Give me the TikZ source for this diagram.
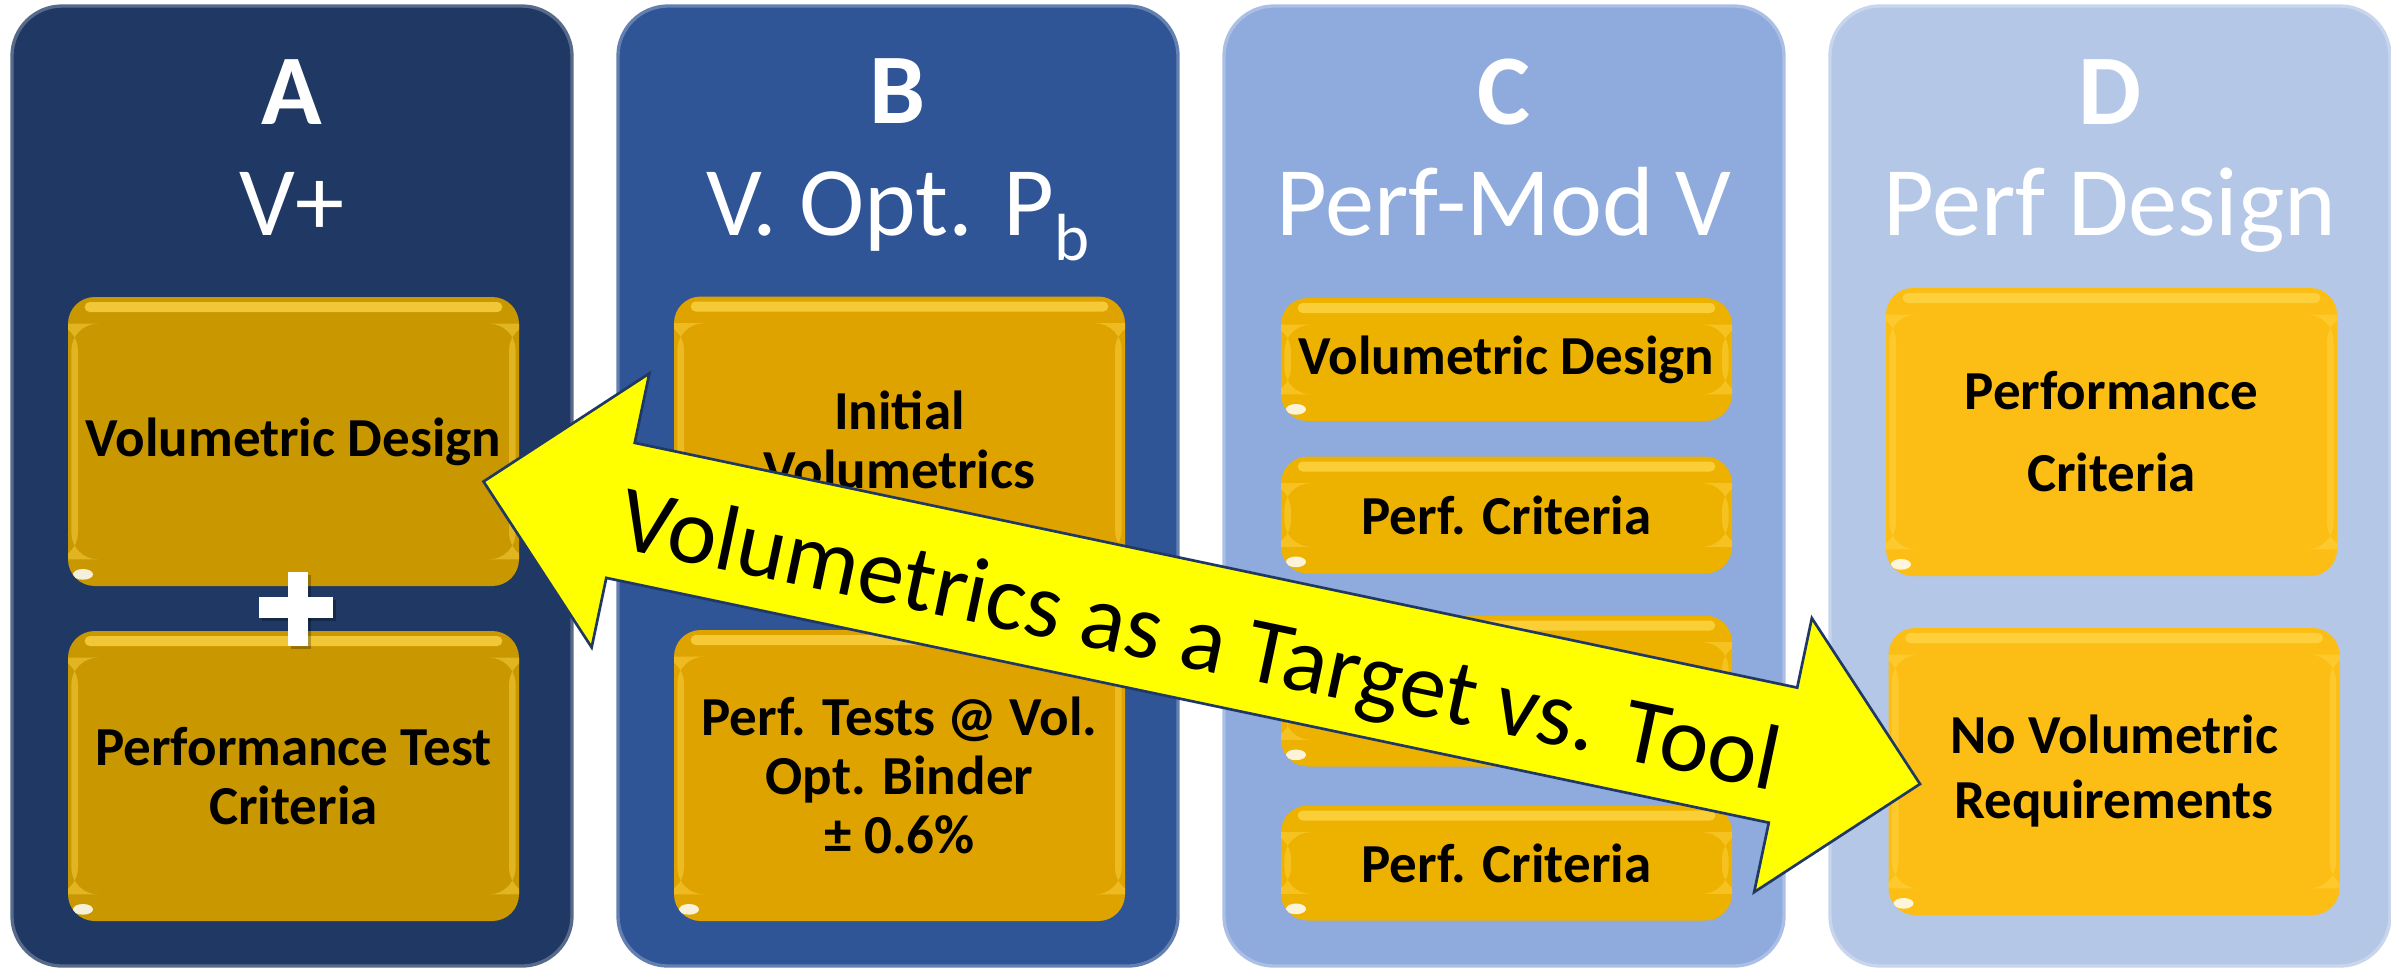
\documentclass[tikz,border=0pt]{standalone}
\usepackage{fontspec}
\setmainfont{Carlito}
\definecolor{colA}{HTML}{203864}
\definecolor{colB}{HTML}{2F5597}
\definecolor{colC}{HTML}{8FAADC}
\definecolor{colD}{HTML}{B4C7E7}
\definecolor{boxA}{HTML}{C99700}
\definecolor{boxB}{HTML}{DFA300}
\definecolor{boxC}{HTML}{EDB100}
\definecolor{boxD}{HTML}{FCBE14}
\definecolor{hilite}{HTML}{FFD84A}
\definecolor{arrowfill}{HTML}{FFFF00}
\definecolor{arrowline}{HTML}{1F3864}
\begin{document}
\begin{tikzpicture}[x=0.3pt,y=-0.3pt,
  col/.style={fill=#1, draw=#1!75!white, line width=1pt, rounded corners=15pt},
  box/.style={fill=#1, rounded corners=8pt, minimum width=135.3pt, align=center,
    inner sep=0pt, text=black,
    font=\fontsize{16.5pt}{17.6pt}\selectfont\bfseries,
    path picture={
      \fill[hilite, opacity=0.75, rounded corners=1.5pt]
        ([xshift=5pt,yshift=-1.5pt]path picture bounding box.north west) rectangle
        ([xshift=-5pt,yshift=-4.5pt]path picture bounding box.north east);
      \fill[hilite, opacity=0.45]
        ([xshift=1pt,yshift=-8pt]path picture bounding box.north west) rectangle
        ([xshift=3pt,yshift=8pt]path picture bounding box.south west);
      \fill[hilite, opacity=0.45]
        ([xshift=-1pt,yshift=-8pt]path picture bounding box.north east) rectangle
        ([xshift=-3pt,yshift=8pt]path picture bounding box.south east);
      \fill[white, opacity=0.85]
        ([xshift=4.5pt,yshift=3.5pt]path picture bounding box.south west) ellipse (3pt and 1.6pt);
    }},
  ttlbold/.style={anchor=base, text=white, font=\fontsize{30pt}{36pt}\selectfont\bfseries},
  ttlreg/.style={anchor=base, text=white, font=\fontsize{29.5pt}{36pt}\selectfont},
  bigarrow/.style={fill=arrowfill, draw=arrowline, line width=0.8pt, line join=miter},
  arrowtext/.style={text=black, font=\fontsize{28pt}{34pt}\selectfont, inner sep=0pt}
]
\useasboundingbox (0,0) rectangle (2391,970);
\fill[white] (0,0) rectangle (2391,970);

% columns
\path[col=colA] (12,6) rectangle (572,966);
\path[col=colB] (618,6) rectangle (1178,966);
\path[col=colC] (1224,6) rectangle (1784,966);
\path[col=colD] (1830,6) rectangle (2390,966);

% titles
\node[ttlbold] (tA) at (292,124) {A};
\node[ttlreg]  (sA) at (292,235) {V+};
\node[ttlbold] (tB) at (898,123) {B};
\node[ttlreg]  (sB) at (898,235) {V. Opt. P\raisebox{-7.5pt}{\fontsize{20pt}{24pt}\selectfont b}};
\node[ttlbold] (tC) at (1504,124) {C};
\node[ttlreg]  (sC) at (1504,235) {Perf-Mod V};
\node[ttlbold] (tD) at (2110,124) {D};
\node[ttlreg]  (sD) at (2110,235) {Perf Design};

% column A
\node[box=boxA, minimum height=86.7pt] (a1) at (293.5,441.5) {Volumetric Design};
\node[box=boxA, minimum height=87pt] (a2) at (293.5,776) {Performance Test\\Criteria};
\fill[black, opacity=0.25] (262,600) rectangle (336,621);
\fill[black, opacity=0.25] (291,575) rectangle (311,649);
\fill[white] (259,597) rectangle (333,618);
\fill[white] (288,572) rectangle (308,646);

% column B
\node[box=boxB, minimum height=86.1pt, font=\fontsize{16.5pt}{17.5pt}\selectfont\bfseries] (b1) at (899.5,440) {Initial\\Volumetrics};
\node[box=boxB, minimum height=87.3pt] (b2) at (899.5,775.5) {Perf. Tests @ Vol.\\Opt. Binder\\± 0.6\%};

% column C
\node[box=boxC, minimum height=36.9pt] (c1) at (1506.5,359.5) {Volumetric Design};
\node[box=boxC, minimum height=35.1pt] (c2) at (1506.5,515) {Perf. Criteria};
\node[box=boxC, minimum height=45.3pt] (c3) at (1506.5,691) {};
\node[box=boxC, minimum height=34.5pt] (c4) at (1506.5,863) {Perf. Criteria};

% column D
\node[box=boxD, minimum height=86.4pt, font=\fontsize{16.5pt}{24.6pt}\selectfont\bfseries] (d1) at (2111.5,432) {Performance\\Criteria};
\node[box=boxD, minimum height=86.1pt, font=\fontsize{16.5pt}{19.5pt}\selectfont\bfseries] (d2) at (2114,771.5) {No Volumetric\\Requirements};

% double arrow
\begin{scope}[shift={(1201.75,632.75)}, rotate=-11.89]
  \draw[bigarrow] (-734,0) -- (-594,-140) -- (-594,-69) -- (594,-69) -- (594,-140)
     -- (734,0) -- (594,140) -- (594,69) -- (-594,69) -- (-594,140) -- cycle;
\end{scope}
\node[arrowtext, rotate=-11.89] (lbl) at (1199,645) {Volumetrics as a Target vs. Tool};
\end{tikzpicture}
\end{document}
